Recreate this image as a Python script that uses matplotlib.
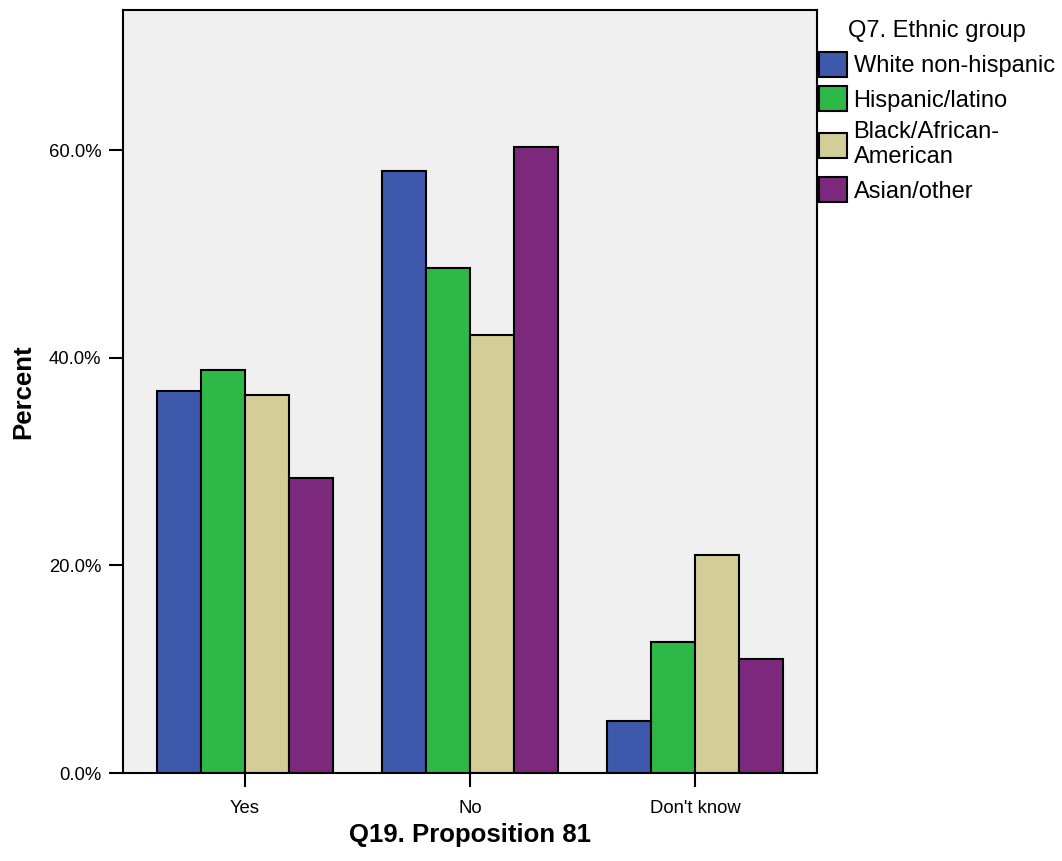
import matplotlib
matplotlib.use('Agg')
import matplotlib.pyplot as plt
import numpy as np

plt.rcParams['font.family'] = ['Liberation Sans', 'DejaVu Sans']

categories = ['Yes', 'No', "Don't know"]
groups = ['White non-hispanic', 'Hispanic/latino', 'Black/African-\nAmerican', 'Asian/other']
colors = ['#3E58AC', '#2EB848', '#D3CE97', '#7B287D']

white = [36.8, 58.0, 5.0]
hispanic = [38.8, 48.6, 12.6]
black = [36.4, 42.2, 21.0]
asian = [28.4, 60.3, 11.0]
series = [white, hispanic, black, asian]

fig = plt.figure(figsize=(10.62, 8.61), dpi=100)
ax = fig.add_axes([123 / 1062, 1 - 773 / 861, (817 - 123) / 1062, (773 - 10) / 861])
ax.set_facecolor('#F0F0F0')

x = np.arange(len(categories))
w = 0.195
for i, (vals, c, g) in enumerate(zip(series, colors, groups)):
    ax.bar(x + (i - 1.5) * w, vals, w, color=c, edgecolor='black', linewidth=1.5, label=g)

ax.set_xlim(-0.54, 2.54)
ax.set_ylim(0, 73.5)
ax.set_yticks([0, 20, 40, 60])
ax.set_yticklabels(['0.0%', '20.0%', '40.0%', '60.0%'], fontsize=13.3)
ax.set_xticks(x)
ax.set_xticklabels(categories, fontsize=13.3)
ax.tick_params(axis='y', direction='out', length=10, width=1.5, pad=5.5)
ax.tick_params(axis='x', direction='out', length=10, width=1.5, pad=9.5)
for s in ax.spines.values():
    s.set_linewidth(1.5)

ax.set_ylabel('Percent', fontsize=18.5, fontweight='bold', labelpad=10)
ax.set_xlabel('Q19. Proposition 81', fontsize=18.5, fontweight='bold', labelpad=4.5)

leg = fig.legend(loc='upper left', bbox_to_anchor=(817 / 1062, 1 - 18 / 861),
                 title='Q7. Ethnic group', fontsize=17, title_fontsize=17,
                 frameon=False, handlelength=1.15, handleheight=1.25,
                 handletextpad=0.3, labelspacing=0.39, borderaxespad=0,
                 borderpad=0.1)

fig.savefig('out.png', dpi=100)
